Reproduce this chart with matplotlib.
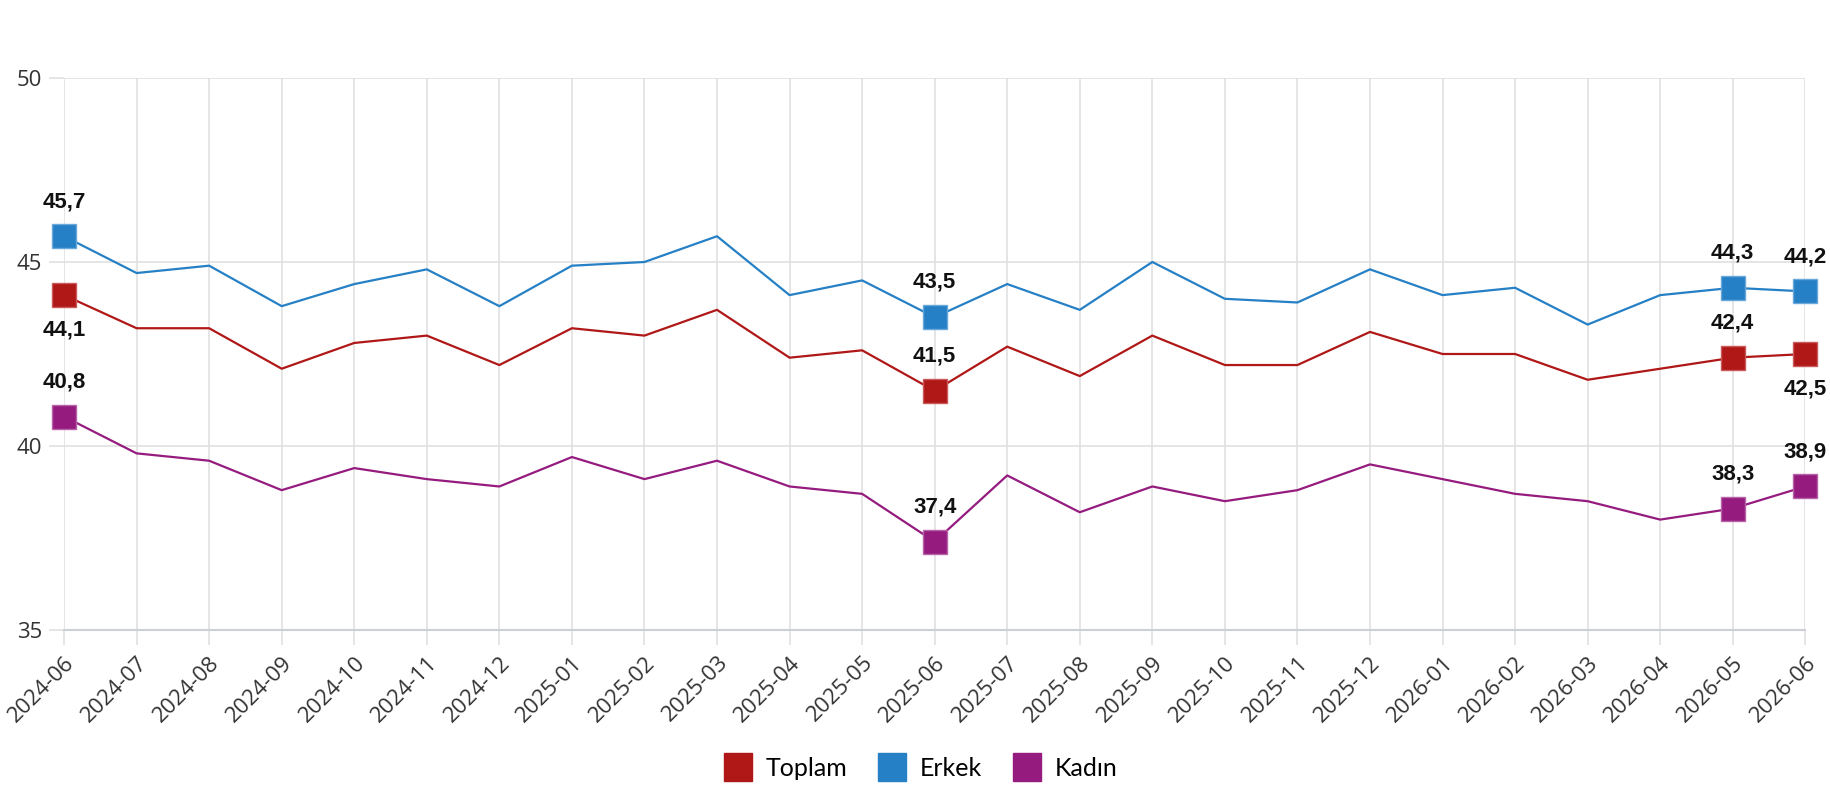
import matplotlib.pyplot as plt

months = ['2024-06', '2024-07', '2024-08', '2024-09', '2024-10', '2024-11', '2024-12',
          '2025-01', '2025-02', '2025-03', '2025-04', '2025-05', '2025-06', '2025-07',
          '2025-08', '2025-09', '2025-10', '2025-11', '2025-12', '2026-01', '2026-02',
          '2026-03', '2026-04', '2026-05', '2026-06']
toplam = [44.1, 43.2, 43.2, 42.1, 42.8, 43.0, 42.2, 43.2, 43.0, 43.7, 42.4, 42.6, 41.5,
          42.7, 41.9, 43.0, 42.2, 42.2, 43.1, 42.5, 42.5, 41.8, 42.1, 42.4, 42.5]
erkek = [45.7, 44.7, 44.9, 43.8, 44.4, 44.8, 43.8, 44.9, 45.0, 45.7, 44.1, 44.5, 43.5,
         44.4, 43.7, 45.0, 44.0, 43.9, 44.8, 44.1, 44.3, 43.3, 44.1, 44.3, 44.2]
kadin = [40.8, 39.8, 39.6, 38.8, 39.4, 39.1, 38.9, 39.7, 39.1, 39.6, 38.9, 38.7, 37.4,
         39.2, 38.2, 38.9, 38.5, 38.8, 39.5, 39.1, 38.7, 38.5, 38.0, 38.3, 38.9]

marked = [0, 12, 23, 24]
# label above (+1) or below (-1) the marker
toplam_side = [-1, 1, 1, -1]
erkek_side = [1, 1, 1, 1]
kadin_side = [1, 1, 1, 1]

series = [
    ('Toplam', toplam, '#b01717', '#c85a5a', toplam_side),
    ('Erkek', erkek, '#2680c5', '#6aa8da', erkek_side),
    ('Kadın', kadin, '#951b7f', '#b863a8', kadin_side),
]

fig = plt.figure(figsize=(18.3, 8), dpi=100)
ax = fig.add_axes([0.035, 0.2125, 0.9515, 0.69])

x = list(range(len(months)))
for name, vals, col, edge, sides in series:
    ax.plot(x, vals, color=col, lw=1.6, zorder=3)
    ax.plot([x[i] for i in marked], [vals[i] for i in marked], ls='none', marker='s',
            ms=17, mfc=col, mec=edge, mew=1, zorder=4, clip_on=False)
    for i, s in zip(marked, sides):
        ax.annotate(f'{vals[i]:.1f}'.replace('.', ','), (x[i], vals[i]),
                    xytext=(0, 25 * s), textcoords='offset points', ha='center', va='center',
                    fontsize=16, fontweight='bold', family=['Liberation Sans', 'DejaVu Sans'],
                    color='#111111', zorder=5, annotation_clip=False)

ax.set_xlim(0, len(months) - 1)
ax.set_ylim(35, 50)
ax.set_yticks([35, 40, 45, 50])
ax.set_xticks(x)
ax.set_xticklabels(months, rotation=45, ha='right', va='top', rotation_mode='anchor')
ax.grid(True, color='#e0e0e0', lw=1.2)
ax.set_axisbelow(True)
for sp in ['top', 'right', 'left']:
    ax.spines[sp].set_visible(False)
ax.spines['bottom'].set_color('#ccd0d6')
ax.spines['bottom'].set_linewidth(1.5)
ax.tick_params(axis='both', length=11, width=1.2, color='#e0e0e0', labelcolor='#333333',
               labelsize=16, pad=5)
for lab in ax.get_xticklabels() + ax.get_yticklabels():
    lab.set_family(['Open Sans', 'DejaVu Sans'])

handles = [plt.Line2D([], [], ls='none', marker='s', ms=20, mfc=c, mec=c) for _, _, c, _, _ in series]
fig.legend(handles, [s[0] for s in series], loc='center', bbox_to_anchor=(0.5, 0.04),
           ncol=3, frameon=False, handletextpad=0.1, columnspacing=0.8,
           prop={'family': ['Lato', 'DejaVu Sans'], 'size': 18})

fig.savefig('out.png', dpi=100)
